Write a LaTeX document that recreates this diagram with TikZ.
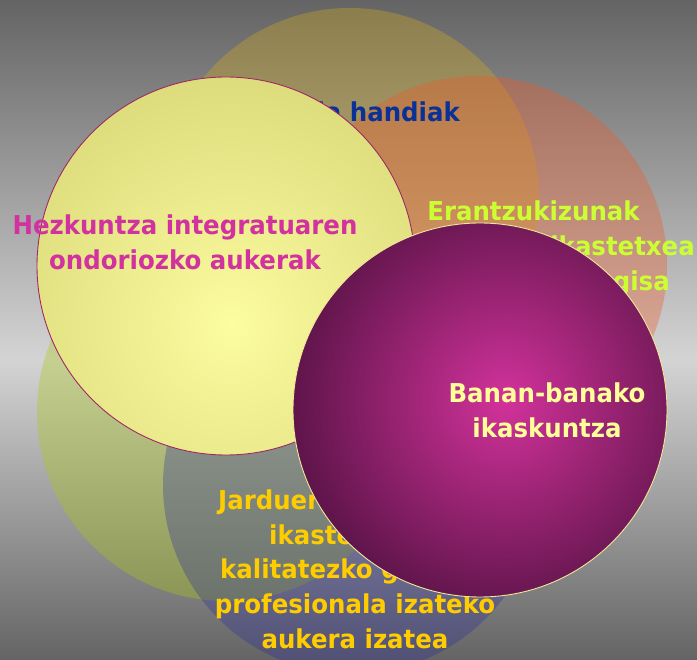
\documentclass[tikz,border=0pt]{standalone}
\usepackage{fontspec}
\setmainfont{DejaVu Sans}
\newfontfamily\lblfont{DejaVu Sans}[FakeStretch=0.94]
\definecolor{bgdark}{RGB}{100,100,100}
\definecolor{bglight}{RGB}{212,212,212}
\definecolor{olivefill}{RGB}{210,170,30}
\definecolor{orangefill}{RGB}{240,90,40}
\definecolor{limefill}{RGB}{170,200,20}
\definecolor{bluefill}{RGB}{40,40,160}
\definecolor{yin}{RGB}{252,252,160}
\definecolor{yout}{RGB}{218,218,122}
\definecolor{yedge}{RGB}{160,40,100}
\definecolor{magin}{RGB}{210,50,155}
\definecolor{magout}{RGB}{92,20,72}
\definecolor{medge}{RGB}{240,232,150}
\definecolor{tblue}{RGB}{10,50,150}
\definecolor{tlime}{RGB}{204,255,51}
\definecolor{tpink}{RGB}{210,50,160}
\definecolor{tcream}{RGB}{255,255,153}
\definecolor{tgold}{RGB}{255,204,0}
\tikzset{
  hatchcirc/.style={fill=#1, fill opacity=0.35, draw=none},
  lbl/.style={inner sep=0pt, font=\lblfont\bfseries\fontsize{26}{34.5}\selectfont},
}
\begin{document}
\begin{tikzpicture}[x=1pt,y=-1pt]
\useasboundingbox (0,0) rectangle (697,660);
% background
\shade[top color=bgdark, bottom color=bglight] (0,0) rectangle (697,360);
\shade[top color=bglight, bottom color=bgdark] (0,359.5) rectangle (697,660);
% semi-transparent circles
\path[hatchcirc=olivefill] (350,197) circle (189pt);
\path[hatchcirc=orangefill] (478,265) circle (189pt);
\path[hatchcirc=limefill] (226,412) circle (189pt);
\path[hatchcirc=bluefill, fill opacity=0.3] (352,485) circle (189pt);
% texts of the hatched circles
\node[lbl, text=tblue, anchor=base east] (t1) at (460,122) {Autonomia handiak};
\node[lbl, text=tlime, anchor=base] (t2a) at (533.5,221) {Erantzukizunak};
\node[lbl, text=tlime, anchor=base east] (t2b) at (695,256) {integrazio ikastetxea};
\node[lbl, text=tlime, anchor=base east] (t2c) at (670,291) {erreferentzia gisa};
\node[lbl, text=tgold, anchor=base west] (t4a) at (218,510) {Jarduera anitzeko};
\node[lbl, text=tgold, anchor=base west] (t4b) at (269,544.5) {ikastetxe bat};
\node[lbl, text=tgold, anchor=base west] (t4c) at (220,579) {kalitatezko gune};
\node[lbl, text=tgold, anchor=base] (t4d) at (355,613.5) {profesionala izateko};
\node[lbl, text=tgold, anchor=base] (t4e) at (355,648) {aukera izatea};
% yellow circle
\begin{scope}
\clip (226,266) circle (189pt);
\shade[inner color=yin, outer color=yout] (232,325) circle (265pt);
\end{scope}
\draw[yedge, line width=0.9pt] (226,266) circle (189pt);
\node[lbl, text=tpink, anchor=base] (t6a) at (185,235) {Hezkuntza integratuaren};
\node[lbl, text=tpink, anchor=base] (t6b) at (185,270) {ondoriozko aukerak};
% magenta circle
\begin{scope}
\clip (480,410) circle (187pt);
\shade[inner color=magin, outer color=magout] (505,400) circle (218pt);
\end{scope}
\draw[medge, line width=0.9pt] (480,410) circle (187pt);
\node[lbl, text=tcream, anchor=base] (t3a) at (547,403) {Banan-banako};
\node[lbl, text=tcream, anchor=base] (t3b) at (547,438) {ikaskuntza};
\end{tikzpicture}
\end{document}
